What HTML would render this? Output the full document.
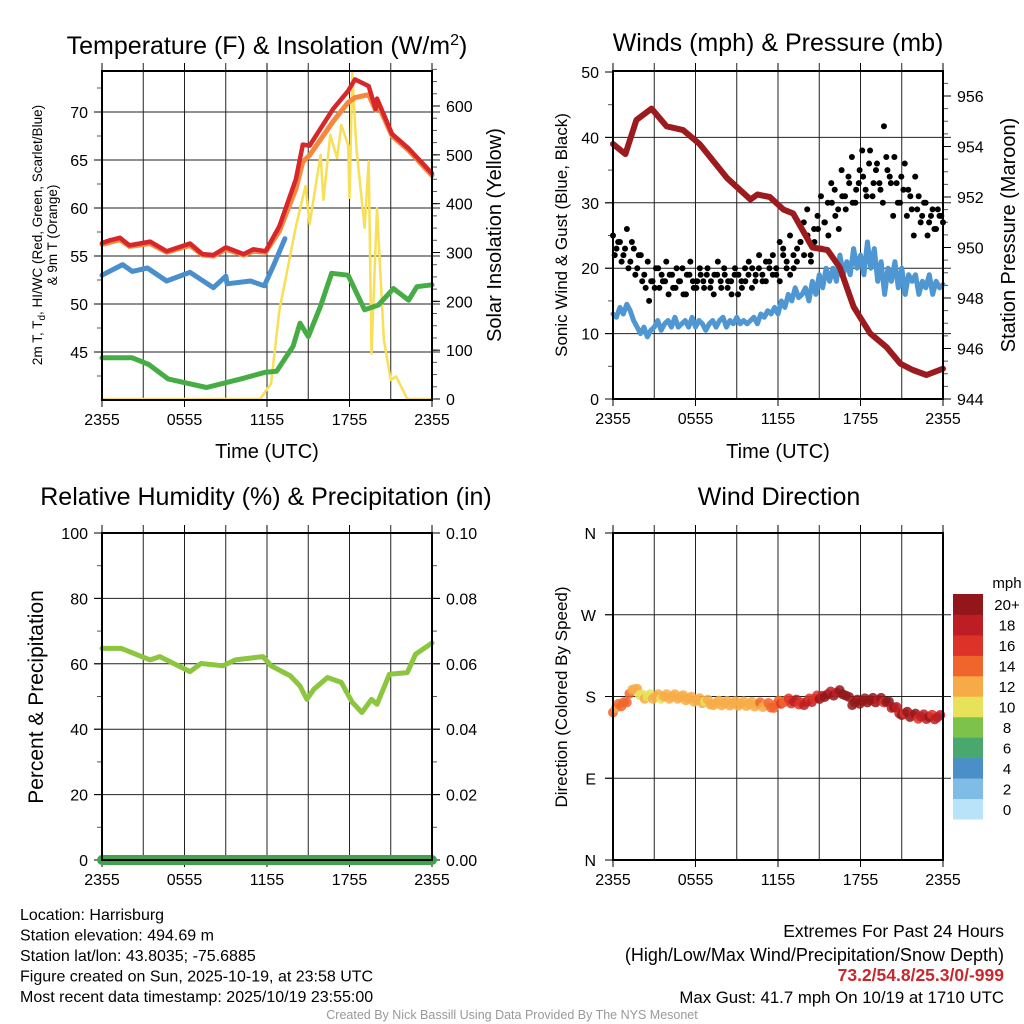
<!DOCTYPE html>
<html><head><meta charset="utf-8"><style>
html,body{margin:0;padding:0;background:#fff;}
svg{display:block;font-family:"Liberation Sans",sans-serif;}
</style></head><body>
<svg id="c" width="1024" height="1024" viewBox="0 0 1024 1024" xmlns="http://www.w3.org/2000/svg"></svg>
<script>
const hours=[0,0.5,1.3,2,3.5,4.7,6.4,7.3,8.1,9,10.3,11,11.9,12.9,14.1,14.6,15.1,16.8,17.9,18.4,19.4,19.9,20,21.1,22.3,24];
const tempRed=[56.35,56.6,56.9,56.1,56.5,55.5,56.3,55.2,55.1,55.9,55.2,55.7,55.5,58.1,63,66.6,66.5,70.3,72.2,73.4,72.7,70.3,71.4,67.7,66.2,63.6];
const tempOrange=[56.2,56.4,56.7,56.0,56.3,55.4,56.1,55.1,55.0,55.7,55.1,55.5,55.4,57.6,62,64.8,65.5,69,71,71.5,71.8,70.2,71.0,67.5,66.0,63.4];
const dewHours=[0,2.2,3.4,4.8,7.6,10.1,11.9,12.7,13.9,14.4,15,15.9,16.7,17.9,19.1,20.1,21.2,22.3,22.9,24];
const dewGreen=[44.4,44.4,43.7,42.2,41.3,42.2,42.9,43,45.6,48,46.6,49.8,53.2,53,49.4,49.9,51.6,50.4,51.8,52];
const hiHours=[0,1.5,2.2,3.3,4.7,6.4,8.1,9,9.1,10.8,11.8,12.5,13.3];
const hiBlue=[53,54.1,53.4,53.75,52.4,53.3,51.7,52.9,52.1,52.4,51.9,54.1,56.8];
const solHours=[0,11.5,12.3,12.9,14.1,14.8,15.1,15.9,16.1,16.6,17.1,17.4,17.9,18.0,18.2,18.5,19.1,19.4,19.6,20,20.5,21,21.4,22.2,24];
const solar=[0,0,32,182,353,436,358,500,408,541,493,561,520,412,667,513,351,487,93,391,120,39,46,0,0];
const presHours=[0,0.9,1.7,2.8,3.9,5.1,6.3,8.3,10,10.5,11.4,12.4,13.1,14.5,15.6,16.5,17.5,18.7,19.9,20.9,21.8,22.8,24];
const pressure=[954.1,953.7,955.05,955.5,954.8,954.65,954.1,952.75,951.9,952.1,952.0,951.5,951.35,950.0,949.9,949.2,947.65,946.6,946.05,945.4,945.15,944.95,945.2];
const windSpd=[13,12.5,14,13,14.5,13.5,12,11,10,11,9.5,10.5,11,12,10.5,11.5,12,11,12.5,11,11.5,12,11,12.5,11,12,11.5,10.5,11.5,12,11,12,12.5,11,12,11.5,12.5,11.5,12,11.5,12,12.5,11.5,13,12.5,13.5,13,14,13,15,14,16,15,17,15.5,16,17,15,18,16,19,17,20,18,20,18,22,19,21,19,23,20,22,19,24,20,23,18,21,16,20,18,21,17,20,16,19,18,19,16,18,17,19,16,18,17,17.5];
const gusts=[25,23,24,22,26,21,23,20,22,19,21,18,17,20,19,18,16,19,17,18,20,16,19,18,17,20,18,19,17,16,19,18,20,17,18,19,16,18,20,19,17,18,20,19,18,21,19,20,18,22,21,19,20,23,24,22,25,21,24,26,23,27,25,30,28,26,31,29,33,30,32,35,34,31,38,33,36,32,41.7,35,33,37,30,34,36,32,29,34,31,28,30,27,29,26,28,27];
const gusts2=[22,24,21,23,20,24,19,22,18,17,15,18,20,17,18,21,19,17,20,18,16,19,21,17,18,19,17,20,18,19,21,17,19,18,16,20,19,17,18,21,20,19,22,18,21,20,22,19,24,23,20,25,22,21,24,27,29,22,26,28,31,27,30,33,32,29,35,31,34,37,30,33,38,32,36,31,35,33,30,37,34,28,33,30,32,28,31,25,29,27,30,25,28,26,29,28];
const rhHours=[0,1.4,3.5,4.2,6.4,7.2,8.8,9.7,11.7,12.3,13.7,14.4,14.9,15.4,16.4,17.4,18.2,18.9,19.6,20,20.9,22.2,22.8,24];
const rh=[64.7,64.7,61.2,62.2,57.6,60.1,59.4,61.2,62.2,59.4,56.3,53.2,49.1,52.2,55.8,54.3,48.2,45.1,49.1,47.6,56.8,57.3,62.9,66.4];
const dirHours=[0,1,1.4,2.3,4.7,7.3,9.7,11.7,12.4,13.9,15.4,16.7,17.4,18.5,19.7,21,22.2,24];
const direction=[165,176,190,180,180,173,172,170,176,173,182,185,173,176,176,162,158,157];
const cbLabels=["0","2","4","6","8","10","12","14","16","18","20+"];
const cbColors=["#b9e3f8","#80bde6","#4a8fc8","#48a86e","#7dc24a","#e7e25a","#f7ab47","#f0652c","#dd3228","#bd1e25","#93171a"];

const S=document.getElementById('c');
const NS='http://www.w3.org/2000/svg';
function mk(tag,attrs,parent){const e=document.createElementNS(NS,tag);for(const k in attrs)e.setAttribute(k,attrs[k]);(parent||S).appendChild(e);return e;}
function txt(x,y,s,size,anchor,parent,extra){const t=mk('text',Object.assign({x:x,y:y,'font-size':size,'text-anchor':anchor||'middle',fill:'#000'},extra||{}),parent);t.textContent=s;return t;}
function scale(d0,d1,r0,r1){return v=>r0+(v-d0)*(r1-r0)/(d1-d0);}
function poly(xs,ys,xf,yf,attrs,parent){const pts=xs.map((h,i)=>xf(h).toFixed(1)+','+yf(ys[i]).toFixed(1)).join(' ');return mk('polyline',Object.assign({points:pts,fill:'none','stroke-linejoin':'round','stroke-linecap':'round'},attrs),parent);}
const TF=16;

function panel(name,x0,y0,x1,y1,hLines){
  const g=mk('g',{});
  
  
  const xf=scale(0,24,x0,x1);
  for(let h=3;h<24;h+=3){const l=mk('line',{x1:xf(h),x2:xf(h),y1:y0-8,y2:y1,stroke:'#222','stroke-width':1},g);}
  hLines.forEach(y=>{const l=mk('line',{x1:x0-8,x2:x1+8,y1:y,y2:y,stroke:'#222','stroke-width':1},g);});
  const labs=['2355','0555','1155','1755','2355'];
  labs.forEach((s,i)=>{const x=xf(i*6);mk('line',{x1:x,x2:x,y1:y1,y2:y1+7,stroke:'#000'},g);mk('line',{x1:x,x2:x,y1:y0,y2:y0-8,stroke:'#000'},g);const t=txt(x,y1+25,s,TF,'middle',g);});
  return {g,xf};
}
function frame(g,x0,y0,x1,y1){const r=mk('rect',{x:x0,y:y0,width:x1-x0,height:y1-y0,fill:'none',stroke:'#000','stroke-width':2},g);}
function yTicks(g,x,vals,yf,side,fmt,minor){
  const d=side==='left'?-1:1;
  if(minor)minor.forEach(v=>mk('line',{x1:x,x2:x+d*5,y1:yf(v),y2:yf(v),stroke:'#555'},g));
  vals.forEach(v=>{mk('line',{x1:x,x2:x+d*8,y1:yf(v),y2:yf(v),stroke:'#000'},g);const t=txt(x+d*14,yf(v)+6,fmt(v),TF,side==='left'?'end':'start',g);});
}

// ---------- Panel 1 ----------
(function(){
  const x0=102,y0=71,x1=432,y1=400;
  const yT=scale(40,70,400,112), yS=scale(0,600,399,106);
  const {g,xf}=panel('temperature-panel',x0,y0,x1,y1,[45,50,55,60,65,70].map(yT));
  const minT=[];for(let v=42.5;v<75;v+=2.5)minT.push(v);
  const minS=[];for(let v=25;v<680;v+=25)minS.push(v);
  yTicks(g,x0,[45,50,55,60,65,70],yT,'left',v=>String(v),minT);
  yTicks(g,x1,[0,100,200,300,400,500,600],yS,'right',v=>String(v),minS);
  let e;
  e=poly(solHours,solar,xf,yS,{stroke:'#f8df55','stroke-width':2.5},g);
  e=poly(hiHours,hiBlue,xf,yT,{stroke:'#4a8fcb','stroke-width':5},g);
  e=poly(dewHours,dewGreen,xf,yT,{stroke:'#46ad46','stroke-width':5},g);
  e=poly(hours,tempOrange,xf,yT,{stroke:'#f5883a','stroke-width':5},g);
  e=poly(hours,tempRed,xf,yT,{stroke:'#d7272a','stroke-width':4.5},g);
  frame(g,x0,y0,x1,y1);
  const t=mk('text',{x:267,y:54,'font-size':25,'text-anchor':'middle'},g);t.innerHTML='Temperature (F) &amp; Insolation (W/m<tspan dy="-9" font-size="16">2</tspan><tspan dy="9">)</tspan>';
  let a=txt(267,458,'Time (UTC)',20,'middle',g);
  a=mk('text',{transform:'translate(42,235) rotate(-90)','font-size':13.5,'text-anchor':'middle'},g);a.innerHTML='2m T, T<tspan font-size="10" dy="3">d</tspan><tspan dy="-3">, HI/WC (Red, Green, Scarlet/Blue)</tspan>';
  a=mk('text',{transform:'translate(57,235) rotate(-90)','font-size':13.5,'text-anchor':'middle'},g);a.textContent='& 9m T (Orange)';
  a=mk('text',{transform:'translate(501,235) rotate(-90)','font-size':20,'text-anchor':'middle'},g);a.textContent='Solar Insolation (Yellow)';
})();

// ---------- Panel 2 ----------
(function(){
  const x0=613,y0=71,x1=943,y1=399;
  const yW=scale(0,50,399,72), yP=scale(944,956,399,96);
  const {g,xf}=panel('winds-pressure-panel',x0,y0,x1,y1,[yW(10),yW(20),yW(30),yW(40)]);
  yTicks(g,x0,[0,10,20,30,40,50],yW,'left',v=>String(v),[5,15,25,35,45]);
  const minP=[];for(let v=944.5;v<957;v+=0.5)minP.push(v);
  yTicks(g,x1,[944,946,948,950,952,954,956],yP,'right',v=>String(v),minP);
  const wh=windSpd.map((_,i)=>i*24/(windSpd.length-1));
  let e=poly(wh,windSpd,xf,yW,{stroke:'#4f97d2','stroke-width':5},g);
  gusts.forEach((v,i)=>{const c=mk('circle',{cx:xf(i*24/(gusts.length-1)),cy:yW(v),r:3,fill:'#000'},g);});
  gusts2.forEach((v,i)=>{const c=mk('circle',{cx:xf((i+0.5)*24/(gusts2.length)),cy:yW(v),r:3,fill:'#000'},g);});
  e=poly(presHours,pressure,xf,yP,{stroke:'#9b1b1e','stroke-width':6},g);
  frame(g,x0,y0,x1,y1);
  let a=txt(778,51,'Winds (mph) & Pressure (mb)',25,'middle',g);
  a=txt(778,458,'Time (UTC)',20,'middle',g);
  a=mk('text',{transform:'translate(567,235) rotate(-90)','font-size':17,'text-anchor':'middle'},g);a.textContent='Sonic Wind & Gust (Blue, Black)';
  a=mk('text',{transform:'translate(1015,235) rotate(-90)','font-size':20,'text-anchor':'middle'},g);a.textContent='Station Pressure (Maroon)';
})();

// ---------- Panel 3 ----------
(function(){
  const x0=102,y0=533,x1=432,y1=860;
  const yR=scale(0,100,860,533), yPr=scale(0,0.1,860,533);
  const {g,xf}=panel('humidity-panel',x0,y0,x1,y1,[20,40,60,80].map(yR));
  yTicks(g,x0,[0,20,40,60,80,100],yR,'left',v=>String(v),[10,30,50,70,90]);
  yTicks(g,x1,[0,0.02,0.04,0.06,0.08,0.1],yPr,'right',v=>v.toFixed(2),[0.01,0.03,0.05,0.07,0.09]);
  let e=poly(rhHours,rh,xf,yR,{stroke:'#8cc63f','stroke-width':5},g);
  e=mk('line',{x1:x0,x2:x1,y1:yPr(0),y2:yPr(0),stroke:'#3fa34d','stroke-width':10,'stroke-linecap':'round'},g);
  frame(g,x0,y0,x1,y1);
  let a=txt(266,505,'Relative Humidity (%) & Precipitation (in)',25,'middle',g);
  a=mk('text',{transform:'translate(43,697) rotate(-90)','font-size':21,'text-anchor':'middle'},g);a.textContent='Percent & Precipitation';
})();

// ---------- Panel 4 ----------
(function(){
  const x0=613,y0=533,x1=943,y1=860;
  const yD=scale(0,360,860,533);
  const {g,xf}=panel('wind-direction-panel',x0,y0,x1,y1,[yD(90),yD(180),yD(270)]);
  [[0,'N'],[90,'E'],[180,'S'],[270,'W'],[360,'N']].forEach(([v,s])=>{mk('line',{x1:x0-8,x2:x0,y1:yD(v),y2:yD(v),stroke:'#000'},g);const t=txt(x0-17,yD(v)+6,s,TF,'end',g);});
  function spdAt(h){let j=Math.min(windSpd.length-1,Math.round(h*(windSpd.length-1)/24));return windSpd[j];}
  dirHours.forEach((h,i)=>{if(i<dirHours.length-1){const h2=dirHours[i+1],n=Math.max(2,Math.round((h2-h)*5));for(let k=0;k<n;k++){const hh=h+(h2-h)*k/n,dd=direction[i]+(direction[i+1]-direction[i])*k/n+((k%3)-1)*2.5;const sp=spdAt(hh)+1;const ci=Math.min(10,Math.max(0,Math.floor(sp/2)));const c=mk('circle',{cx:xf(hh),cy:yD(dd),r:5,fill:cbColors[ci],'fill-opacity':0.85},g);}}});
  frame(g,x0,y0,x1,y1);
  let a=txt(779,505,'Wind Direction',25,'middle',g);
  a=mk('text',{transform:'translate(567,697) rotate(-90)','font-size':17,'text-anchor':'middle'},g);a.textContent='Direction (Colored By Speed)';
  const cb=mk('g',{},g);
  const h=225/11;
  cbColors.forEach((col,i)=>{const y=819-(i+1)*h;const r=mk('rect',{x:953,y:y,width:30,height:h+0.5,fill:col},cb);const t=txt(1007,y+h/2+6,cbLabels[i],15,'middle',cb);});
  a=txt(1007,588,'mph',15,'middle',cb);
})();

// ---------- Footer ----------
const info=['Location: Harrisburg','Station elevation: 494.69 m','Station lat/lon: 43.8035; -75.6885','Figure created on Sun, 2025-10-19, at 23:58 UTC','Most recent data timestamp: 2025/10/19 23:55:00'];
info.forEach((s,i)=>{const t=txt(20,920+i*20.5,s,16,'start');});
let f=txt(1004,937,'Extremes For Past 24 Hours',17.5,'end');
f=txt(1004,961,'(High/Low/Max Wind/Precipitation/Snow Depth)',18,'end');
f=txt(1004,981,'73.2/54.8/25.3/0/-999',17.5,'end',null,{fill:'#c8282d','font-weight':'bold'});
f=txt(1004,1003,'Max Gust: 41.7 mph On 10/19 at 1710 UTC',16.8,'end');
f=txt(512,1019,'Created By Nick Bassill Using Data Provided By The NYS Mesonet',12.5,'middle',null,{fill:'#999'});
</script>
</body></html>
